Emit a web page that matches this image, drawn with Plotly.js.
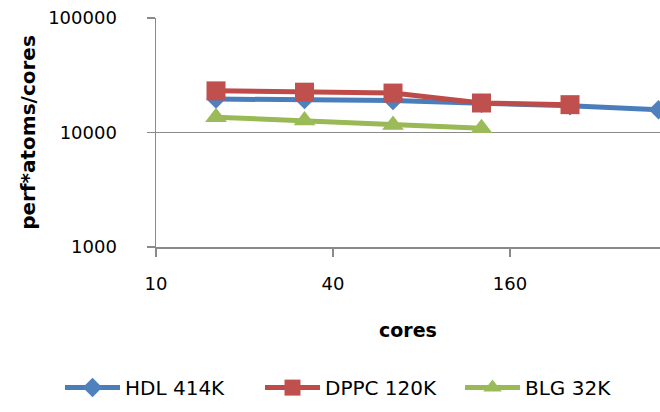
<!DOCTYPE html>
<html>
<head>
<meta charset="utf-8">
<script src="https://cdn.plot.ly/plotly-3.0.1.min.js"></script>
<style>html,body{margin:0;padding:0;background:#fff;}#chart{width:660px;height:412px;}</style>
</head>
<body>
<div id="chart"></div>
<script>
// Data
const cores = [16, 32, 64, 128, 256, 512];
const hdl414k = [19600, 19400, 19000, 18000, 17100, 15800];
const dppc120k = [23100, 22500, 22100, 18100, 17500];
const blg32k = [13600, 12700, 11600, 10900];
const seriesNames = ['HDL 414K', 'DPPC 120K', 'BLG 32K'];
const xTickVals = [10, 40, 160, 640];
const xTickText = ['10', '40', '160', '640'];
const yTickVals = [1000, 10000, 100000];
const yTickText = ['1000', '10000', '100000'];

const FONT = 'DejaVu Sans';
const GRID = '#8a8a8a';

const traces = [
  {x: cores, y: hdl414k, name: seriesNames[0], mode: 'lines+markers',
   line: {color: '#4A7EBB', width: 5},
   marker: {symbol: 'diamond', size: 15, color: '#4F81BD'}},
  {x: cores.slice(0, dppc120k.length), y: dppc120k, name: seriesNames[1], mode: 'lines+markers',
   line: {color: '#BE4B48', width: 5},
   marker: {symbol: 'square', size: 19, color: '#C0504D'}},
  {x: cores.slice(0, blg32k.length), y: blg32k, name: seriesNames[2], mode: 'lines+markers',
   line: {color: '#98B954', width: 5},
   marker: {symbol: 'triangle-up', size: 19, color: '#9BBB59'}}
];

const layout = {
  width: 660, height: 412,
  margin: {l: 156, r: 0, t: 18, b: 164.7},
  paper_bgcolor: '#fff', plot_bgcolor: '#fff',
  font: {family: FONT, size: 18, color: '#000'},
  showlegend: true,
  legend: {orientation: 'h', x: -0.1175, xanchor: 'left', y: -0.614, yanchor: 'middle',
           font: {family: FONT, size: 20, color: '#000'}, itemwidth: 55,
           entrywidth: 130, entrywidthmode: 'pixels', bgcolor: 'rgba(0,0,0,0)'},
  xaxis: {type: 'log', range: [1, Math.log10(518)], tickmode: 'array', tickvals: xTickVals, ticktext: xTickText,
          showgrid: false, zeroline: false, showline: true, linecolor: GRID, linewidth: 1.5,
          ticks: 'outside', ticklen: 8, tickwidth: 1.5, tickcolor: GRID, ticklabelstandoff: 12,
          tickfont: {family: FONT, size: 18, color: '#000'},
          title: {text: 'cores', standoff: 30, font: {family: FONT, size: 19, weight: 'bold', color: '#000'}}},
  yaxis: {type: 'log', range: [3, 5], tickmode: 'array', tickvals: yTickVals, ticktext: yTickText,
          showgrid: true, gridcolor: GRID, gridwidth: 1.5, zeroline: false, showline: true, linecolor: GRID, linewidth: 1.5,
          ticks: 'outside', ticklen: 8, tickwidth: 1.5, tickcolor: GRID, ticklabelstandoff: 26,
          tickfont: {family: FONT, size: 18, color: '#000'},
          title: {text: 'perf*atoms/cores', standoff: 7, font: {family: FONT, size: 20, weight: 'bold', color: '#000'}}}
};

Plotly.newPlot('chart', traces, layout, {displayModeBar: false, staticPlot: true});
</script>
</body>
</html>
